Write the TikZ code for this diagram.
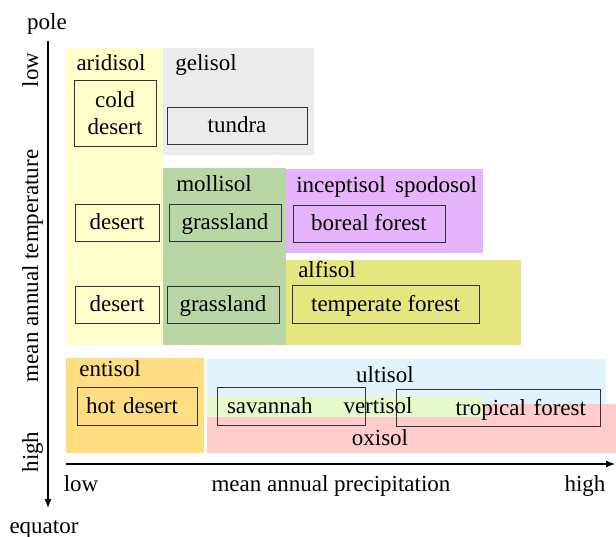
\documentclass[tikz,border=0pt]{standalone}
\usepackage{fontspec}
\setmainfont{Liberation Serif}
\usetikzlibrary{arrows.meta}
\definecolor{cArid}{HTML}{FFFFCC}
\definecolor{cGel}{HTML}{EBEBEB}
\definecolor{cMoll}{HTML}{B9D7A5}
\definecolor{cIncep}{HTML}{E6B4FA}
\definecolor{cAlf}{HTML}{E6E680}
\definecolor{cEnt}{HTML}{FFDD80}
\definecolor{cUlt}{HTML}{E1F3FC}
\definecolor{cVert}{HTML}{E6FACC}
\definecolor{cOx}{HTML}{FFCCCC}
\begin{document}
\begin{tikzpicture}[x=1pt,y=-1pt,
  font=\fontsize{23}{27}\selectfont,
  biome/.style={draw=black!80, line width=0.9pt, inner sep=0pt,
    text height=17pt, text depth=2pt},
  lbl/.style={inner sep=0pt, anchor=base},
  axis/.style={line width=1.2pt, -{Latex[length=9pt,width=7pt]}}]
\useasboundingbox (0,0) rectangle (616,537);
% soil regions
\fill[cArid]  (66,48)   rectangle (163,345);
\fill[cGel]   (163,48)  rectangle (314,155);
\fill[cMoll]  (163,168) rectangle (286,345);
\fill[cIncep] (286,169) rectangle (483,253);
\fill[cAlf]   (286,260) rectangle (521,345);
\fill[cEnt]   (66,358)  rectangle (204,453);
\fill[cUlt]   (207,359) rectangle (606,453);
\fill[cOx]    (207,404) rectangle (616,453);
\fill[cVert]  (207,396) rectangle (483,417);
% soil labels
\node[lbl] (aridisol)   at (111,71)  {aridisol};
\node[lbl] (gelisol)    at (206,71)  {gelisol};
\node[lbl] (mollisol)   at (214,192) {mollisol};
\node[lbl] (inceptisol) at (341,193) {inceptisol};
\node[lbl] (spodosol)   at (436,193) {spodosol};
\node[lbl] (alfisol)    at (327,278) {alfisol};
\node[lbl] (entisol)    at (110,377) {entisol};
\node[lbl] (ultisol)    at (385,382) {ultisol};
\node[lbl] (oxisol)     at (380,445) {oxisol};
% biome boxes
\node[draw=black!80, line width=0.9pt, inner sep=0pt, align=center,
  minimum width=82pt, minimum height=66pt] (colddesert) at (115,113) {cold\\desert};
\node[biome, minimum width=140pt, minimum height=37pt] (tundra)  at (237,125.5) {tundra};
\node[biome, minimum width=84pt,  minimum height=37pt] (desertA) at (117,222.5) {desert};
\node[biome, minimum width=112pt, minimum height=37pt] (grassA)  at (225,222.5) {grassland};
\node[biome, minimum width=152pt, minimum height=37pt] (boreal)  at (369,223.5) {boreal forest};
\node[biome, minimum width=84pt,  minimum height=37pt] (desertB) at (117,304.5) {desert};
\node[biome, minimum width=112pt, minimum height=37pt] (grassB)  at (223,304.5) {grassland};
\node[biome, minimum width=187pt, minimum height=38pt] (temperate) at (385.5,304) {temperate forest};
\node[biome, inner xsep=9pt, text width=102pt, align=left,
  minimum height=38pt] (hotdesert) at (137,406) {hot desert};
\node[biome, inner xsep=10pt, text width=128pt, align=left,
  minimum height=38pt] (savannah) at (291,406) {savannah};
\node[biome, inner xsep=14pt, text width=176pt, align=right,
  minimum height=37pt] (tropical) at (498,407.5) {tropical forest};
\node[lbl] (vertisol) at (378,413) {vertisol};
% axes
\coordinate (vtop) at (48,41);
\coordinate (vbot) at (48,508);
\coordinate (hleft) at (66,464);
\coordinate (hright) at (615,464);
\draw[axis] (vtop) -- (vbot);
\draw[axis] (hleft) -- (hright);
\node[lbl] (pole)    at (47,30)  {pole};
\node[lbl] (equator) at (44,533) {equator};
\node[lbl, rotate=90] (tlow)  at (38,70)  {low};
\node[lbl, rotate=90] (ttemp) at (38,266) {mean annual temperature};
\node[lbl, rotate=90] (thigh) at (38,452) {high};
\node[lbl] (plow)  at (81,491)  {low};
\node[lbl] (pprec) at (331,491) {mean annual precipitation};
\node[lbl] (phigh) at (585,491) {high};
\end{tikzpicture}
\end{document}
